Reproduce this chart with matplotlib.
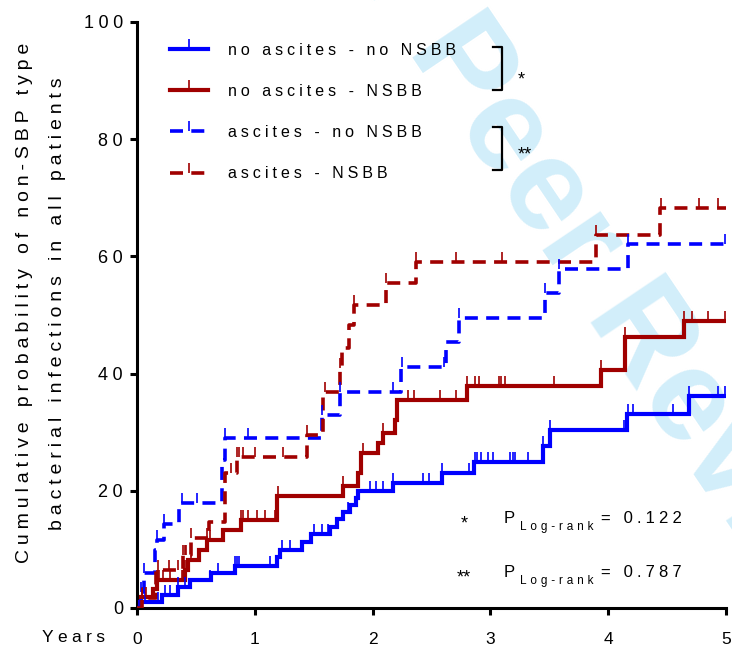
import numpy as np
import matplotlib
matplotlib.use("Agg")
import matplotlib.pyplot as plt
from matplotlib.lines import Line2D
from matplotlib.path import Path

plt.rcParams['font.family'] = ['Liberation Sans', 'DejaVu Sans']

# step curves (years, cumulative %)
t_noasc_nonsbb = [0, 0.025, 0.21, 0.35, 0.45, 0.63, 0.83, 1.19, 1.21, 1.40, 1.48, 1.64, 1.70, 1.75,
                  1.81, 1.86, 1.88, 2.17, 2.59, 2.86, 3.45, 3.51, 4.16, 4.69, 5.0]
v_noasc_nonsbb = [0, 1.1, 2.2, 3.6, 4.8, 6.0, 7.2, 8.7, 9.9, 11.3, 12.6, 13.9, 15.2, 16.4,
                  17.6, 18.8, 19.9, 21.4, 23.1, 25.0, 27.6, 30.3, 33.1, 36.2, 36.2]

t_noasc_nsbb = [0, 0.03, 0.14, 0.17, 0.41, 0.43, 0.53, 0.59, 0.73, 0.88, 1.19, 1.75, 1.88, 1.90,
                2.05, 2.09, 2.19, 2.21, 2.80, 3.94, 4.14, 4.64, 5.0]
v_noasc_nsbb = [0, 1.8, 3.2, 4.8, 6.5, 8.2, 9.9, 11.6, 13.3, 15.1, 19.1, 20.8, 23.0, 26.4,
                28.1, 29.9, 32.1, 35.5, 37.8, 40.6, 46.2, 49.0, 49.0]

t_asc_nonsbb = [0, 0.03, 0.06, 0.15, 0.17, 0.23, 0.36, 0.72, 0.75, 1.57, 1.72, 2.24, 2.62, 2.73,
                3.46, 3.58, 4.17, 5.0]
v_asc_nonsbb = [0, 2.8, 5.9, 9.9, 11.6, 14.4, 17.9, 25.3, 29.0, 32.9, 36.9, 41.1, 45.4, 49.5,
                53.7, 57.8, 62.2, 62.2]

t_asc_nsbb = [0, 0.04, 0.16, 0.39, 0.46, 0.61, 0.745, 0.85, 1.44, 1.58, 1.72, 1.74, 1.80, 1.84,
              2.11, 2.37, 3.90, 4.44, 5.0]
v_asc_nsbb = [0, 1.7, 6.5, 9.0, 11.9, 14.7, 23.0, 25.7, 29.5, 36.9, 40.9, 44.3, 48.3, 51.7,
              55.4, 59.1, 63.7, 68.2, 68.2]

# censored observations (years)
c_noasc_nonsbb = [0.07, 0.18, 0.24, 0.28, 0.35, 0.41, 0.62, 0.69, 0.83, 0.85, 0.87, 1.13, 1.23,
                  1.30, 1.50, 1.57, 1.62, 1.79, 1.98, 2.03, 2.09, 2.17, 2.43, 2.48, 2.59, 2.82,
                  2.87, 2.89, 2.92, 2.98, 3.02, 3.17, 3.19, 3.21, 3.32, 3.45, 3.51, 4.13, 4.17,
                  4.21, 4.55, 4.69, 4.93, 4.99]
c_noasc_nsbb = [0.04, 0.08, 0.17, 0.18, 0.19, 0.22, 0.28, 0.38, 0.39, 0.41, 0.46, 0.62, 0.88,
                0.90, 0.94, 1.02, 1.09, 1.17, 1.20, 1.75, 1.92, 2.09, 2.30, 2.35, 2.57, 2.71,
                2.80, 2.87, 2.90, 3.07, 3.09, 3.12, 3.54, 3.94, 4.14, 4.64, 4.71, 4.85, 4.99]
c_asc_nonsbb = [0.03, 0.06, 0.17, 0.23, 0.38, 0.51, 0.75, 0.94, 1.57, 1.72, 2.17, 2.25, 2.61,
                2.73, 3.46, 3.58, 4.17, 4.99]
c_asc_nsbb = [0.04, 0.18, 0.27, 0.35, 0.39, 0.41, 0.42, 0.46, 0.59, 0.80, 0.85, 0.87, 0.90,
              1.00, 1.24, 1.44, 1.60, 1.72, 1.84, 2.11, 2.37, 2.71, 3.10, 3.90, 4.45, 4.77, 4.93]

labels = ["no ascites - no NSBB", "no ascites - NSBB", "ascites - no NSBB", "ascites - NSBB"]
p_values = ["0.122", "0.787"]
x_ticks = [0, 1, 2, 3, 4, 5]
y_ticks = [0, 20, 40, 60, 80, 100]

BLUE = '#0000ff'
RED = '#a00000'
W, H = 732, 651


def spaced(s, sp='\u2005'):
    return sp.join(s)


def ftext(x, y, s, **kw):
    return fig.text(x / W, 1 - y / H, s, **kw)


fig = plt.figure(figsize=(W / 100, H / 100), dpi=100)
ax = fig.add_axes([137 / W, 1 - 608 / H, 589 / W, 586 / H])
ax.patch.set_alpha(0)

# watermark behind the axes
fig.text(581 / W, 1 - 247 / H, "For Peer Review", rotation=-56, rotation_mode='anchor',
         ha='center', va='center', fontsize=94, fontweight='bold', color='#d2eefa', zorder=-1)

tick = Path([(0, 0), (0, 1)])
dash = (0, (3.6, 2.3))
series = [
    (t_noasc_nonsbb, v_noasc_nonsbb, c_noasc_nonsbb, BLUE, '-'),
    (t_noasc_nsbb, v_noasc_nsbb, c_noasc_nsbb, RED, '-'),
    (t_asc_nonsbb, v_asc_nonsbb, c_asc_nonsbb, BLUE, dash),
    (t_asc_nsbb, v_asc_nsbb, c_asc_nsbb, RED, dash),
]
handles = []
for t, v, c, col, ls in series:
    lw = 3.0 if ls == '-' else 2.6
    ax.step(t, v, where='post', color=col, lw=lw, ls=ls, solid_joinstyle='miter', zorder=3)
    idx = np.searchsorted(t, c, side='right') - 1
    cy = np.asarray(v)[idx]
    ax.plot(c, cy, ls='none', marker=tick, ms=15, mew=1.2, color=col, zorder=4, clip_on=False)
    handles.append(Line2D([], [], color=col, lw=lw, ls=ls, marker=tick, ms=15, mew=1.2))

ax.set_xlim(0, 5)
ax.set_ylim(0, 100)
ax.set_xticks(x_ticks)
ax.set_yticks(y_ticks)
ax.set_xticklabels([spaced(str(x)) for x in x_ticks])
ax.set_yticklabels([spaced(str(y)) for y in y_ticks])
for s in ['top', 'right']:
    ax.spines[s].set_visible(False)
for s in ['left', 'bottom']:
    ax.spines[s].set_linewidth(2.2)
ax.tick_params(axis='both', direction='out', length=5, width=2.2, labelsize=13)
ax.tick_params(axis='x', pad=12, labelsize=12.5)
ax.tick_params(axis='y', pad=5)

ax.set_ylabel(spaced("Cumulative probability of non-SBP type") + "\n"
              + spaced("bacterial infections in all patients"),
              fontsize=14, labelpad=13, linespacing=2.25)
ax.yaxis.label.set_y(0.52)
ftext(73, 638, spaced("Years"), fontsize=12.5, ha='center', va='center')

leg = ax.legend(handles, [spaced(l) for l in labels], loc='upper left',
                bbox_to_anchor=(0.056, 0.965), frameon=False, fontsize=11.5,
                handlelength=2.4, handletextpad=1.25, labelspacing=1.64,
                borderpad=0, borderaxespad=0)

# significance brackets
for y0, y1, ys, star in [(47, 90, 80, '*'), (127, 170, 155, '**')]:
    xs = np.array([493, 502, 502, 493]) / W
    yy = 1 - np.array([y0, y0, y1, y1]) / H
    fig.add_artist(Line2D(xs, yy, color='black', lw=1.6, transform=fig.transFigure))
    ftext(518, ys, star, fontsize=13, ha='left', va='center')

# log-rank results
for (y, star), p in zip([(523, '*'), (577, '**')], p_values):
    ftext(464, y + 1, star, fontsize=13, ha='center', va='center')
    ftext(504, y, "P", fontsize=12, ha='left', va='baseline')
    ftext(520, y + 7, spaced("Log-rank", '\u2004'), fontsize=8.5, ha='left', va='baseline')
    ftext(601, y, spaced("= " + p), fontsize=12, ha='left', va='baseline')

fig.savefig('out.png', dpi=100)
